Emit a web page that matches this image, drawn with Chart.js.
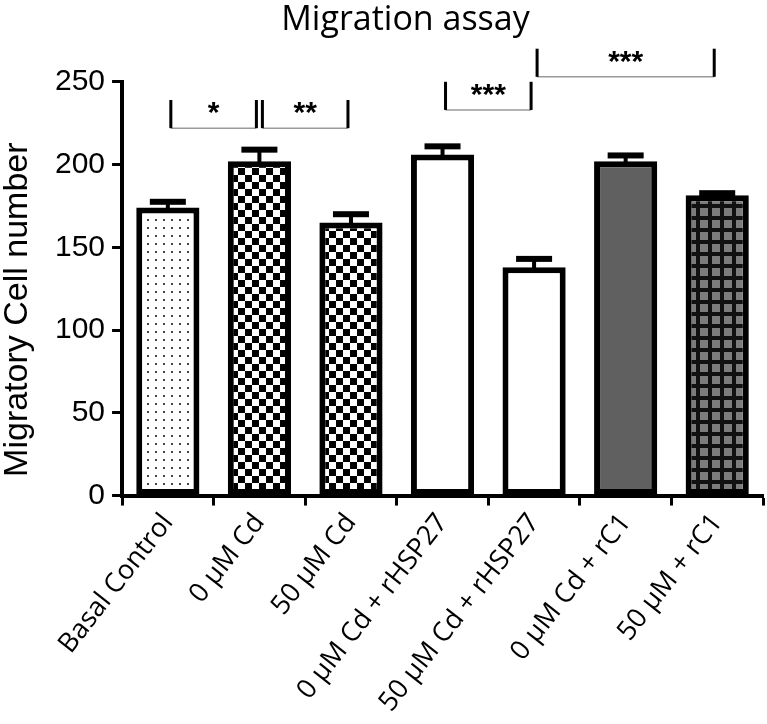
<!DOCTYPE html>
<html><head><meta charset="utf-8">
<script src="https://cdn.jsdelivr.net/npm/chart.js@4.4.0/dist/chart.umd.min.js"></script>
<style>html,body{margin:0;padding:0;background:#fff}#wrap{width:767px;height:724px}</style>
</head><body><div id="wrap"><canvas id="c" width="767" height="724"></canvas></div>
<script>
const categories = ['Basal Control','0 \u00B5M Cd','50 \u00B5M Cd','0 \u00B5M Cd + rHSP27','50 \u00B5M Cd + rHSP27','0 \u00B5M Cd + rC1','50 \u00B5M + rC1'];
const migratoryCells = [174, 202, 165, 206, 138, 202, 181.5];
const semErrors = [3.5, 7, 5, 5, 5, 3.5, 1.2];
const yTicks = [0, 50, 100, 150, 200, 250];
const yAxisTitle = 'Migratory Cell number';
const sigFrom = [0, 1, 3, 4];
const sigTo = [1, 2, 4, 6];
const sigLabels = ['*', '**', '***', '***'];
const sigLineLevel = [222, 222, 233, 253];
const sigTopLevel = [239, 239, 250, 270];

function tile(w, h, draw) {
  const c = document.createElement('canvas'); c.width = w; c.height = h;
  const g = c.getContext('2d'); draw(g, w, h);
  return document.getElementById('c').getContext('2d').createPattern(c, 'repeat');
}
const dots = tile(8, 8, (g) => { g.fillStyle = '#fff'; g.fillRect(0,0,8,8); g.fillStyle = '#444'; g.fillRect(3,3,2,2); });
const checker = tile(14, 14, (g) => { g.fillStyle = '#fff'; g.fillRect(0,0,14,14); g.fillStyle = '#000'; g.fillRect(0,0,7,7); g.fillRect(7,7,7,7); });
const grid = tile(12, 12, (g) => { g.fillStyle = '#7c7c7c'; g.fillRect(0,0,12,12); g.fillStyle = '#111'; g.fillRect(0,0,12,4); g.fillRect(0,0,4,12); });
const fills = [dots, checker, checker, '#ffffff', '#ffffff', '#606060', grid];

const errorBars = {
  id: 'errorBars',
  afterDatasetsDraw(chart) {
    const ctx = chart.ctx, y = chart.scales.y, meta = chart.getDatasetMeta(0);
    ctx.save();
    ctx.fillStyle = '#000';
    meta.data.forEach((bar, i) => {
      const top = y.getPixelForValue(migratoryCells[i] + semErrors[i]);
      const base = y.getPixelForValue(migratoryCells[i]);
      ctx.fillRect(bar.x - 2, top, 4, base - top + 3);
      ctx.fillRect(bar.x - 18, top - 3, 36, 6);
    });
    ctx.restore();
  }
};

const sigBrackets = {
  id: 'sigBrackets',
  afterDraw(chart) {
    const ctx = chart.ctx, x = chart.scales.x, y = chart.scales.y;
    ctx.save();
    sigFrom.forEach((f, i) => {
      const x1 = x.getPixelForValue(f) + 3;
      const x2 = x.getPixelForValue(sigTo[i]) - 3;
      const yl = y.getPixelForValue(sigLineLevel[i]);
      const yt = y.getPixelForValue(sigTopLevel[i]);
      ctx.strokeStyle = '#9a9a9a'; ctx.lineWidth = 1.5;
      ctx.beginPath(); ctx.moveTo(x1, yl); ctx.lineTo(x2, yl); ctx.stroke();
      ctx.fillStyle = '#000';
      ctx.fillRect(x1 - 1.5, yt, 3, yl - yt);
      ctx.fillRect(x2 - 1.5, yt, 3, yl - yt);
      ctx.font = 'bold 30px "Liberation Sans", Arial, sans-serif';
      ctx.textAlign = 'center'; ctx.textBaseline = 'alphabetic';
      ctx.fillText(sigLabels[i], (x1 + x2) / 2, yt + 22);
    });
    // y axis title
    const ca = chart.chartArea;
    ctx.translate(18, (ca.top + ca.bottom) / 2 + 21);
    ctx.rotate(-Math.PI / 2);
    ctx.font = '34px "Liberation Sans", Arial, sans-serif';
    ctx.fillStyle = '#000';
    ctx.textAlign = 'center'; ctx.textBaseline = 'middle';
    ctx.fillText(yAxisTitle, 0, 0);
    ctx.restore();
  }
};

new Chart(document.getElementById('c'), {
  type: 'bar',
  data: {
    labels: categories,
    datasets: [{
      label: 'Migratory Cell number',
      data: migratoryCells,
      backgroundColor: fills,
      borderColor: '#000',
      borderWidth: 6,
      borderSkipped: false,
      barPercentage: 0.69,
      categoryPercentage: 1.0
    }]
  },
  options: {
    responsive: false,
    animation: false,
    devicePixelRatio: 1,
    layout: { padding: { left: 48, right: 4, top: 0, bottom: 4 } },
    plugins: {
      legend: { display: false },
      tooltip: { enabled: false },
      title: {
        display: true, text: 'Migration assay', color: '#000',
        font: { family: '"Open Sans", sans-serif', size: 34, weight: 'normal' },
        padding: { top: 0, bottom: 41 }
      }
    },
    scales: {
      x: {
        offset: true,
        grid: { display: true, drawOnChartArea: false, drawTicks: true, tickLength: 10, tickWidth: 3, tickColor: '#000' },
        border: { display: true, color: '#000', width: 4 },
        ticks: {
          autoSkip: false, minRotation: 52, maxRotation: 52, color: '#000', padding: 2,
          font: { family: '"Open Sans", sans-serif', size: 27 }
        }
      },
      y: {
        min: 0, max: 250,
        afterBuildTicks: (s) => { s.ticks = yTicks.map(v => ({ value: v })); },
        grid: { display: true, drawOnChartArea: false, drawTicks: true, tickLength: 10, tickWidth: 3, tickColor: '#000' },
        border: { display: true, color: '#000', width: 4 },
        ticks: { color: '#000', padding: 7, font: { family: '"Liberation Sans", Arial, sans-serif', size: 30 } }
      }
    }
  },
  plugins: [errorBars, sigBrackets]
});
</script></body></html>
